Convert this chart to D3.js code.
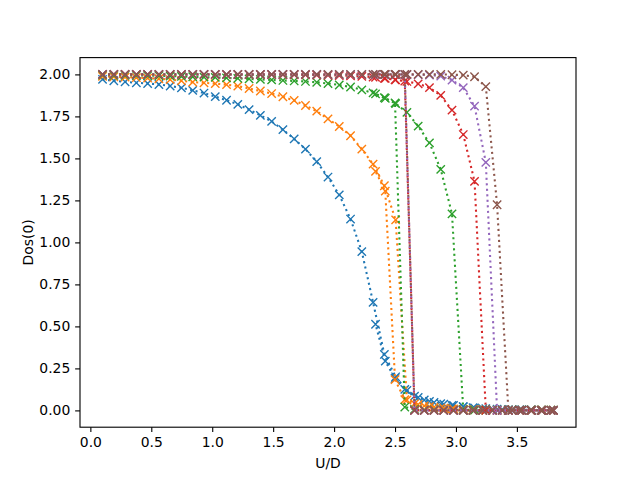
<!DOCTYPE html>
<html><head><meta charset="utf-8">
<script src="https://cdn.jsdelivr.net/npm/d3@7"></script>
<style>body{margin:0;background:#fff}text{font-family:"DejaVu Sans",sans-serif;fill:#000}</style>
</head><body><svg id="c" width="640" height="480"></svg>
<script>
// U/D grid of the increasing sweep and of the decreasing sweep
const uForward = [0.1,0.1925,0.285,0.3775,0.47,0.5625,0.655,0.7475,0.84,0.9325,1.025,1.1175,1.21,1.3025,1.395,1.4875,1.58,1.6725,1.765,1.8575,1.95,2.0425,2.135,2.2275,2.32,2.4125,2.505,2.5975,2.69,2.7825,2.875,2.9675,3.06,3.1525,3.245,3.3375,3.43,3.5225,3.615,3.7075,3.8];
const uBackward = [3.78,3.70,3.62,3.54,3.46,3.38,3.30,3.22,3.14,3.06,2.98,2.90,2.82,2.74,2.66,2.58,2.50,2.42,2.34];

// Dos(0) per series: forward sweep, then backward sweep
const dos1F = [1.970,1.962,1.956,1.950,1.946,1.940,1.931,1.920,1.905,1.889,1.868,1.846,1.822,1.790,1.756,1.720,1.671,1.616,1.555,1.481,1.389,1.283,1.139,0.945,0.643,0.333,0.200,0.119,0.077,0.054,0.040,0.030,0.022,0.015,0.010,0.007,0.005,0.004,0.003,0.002,0.002];
const dos1B = [0.002,0.002,0.003,0.004,0.005,0.006,0.008,0.011,0.016,0.022,0.029,0.037,0.047,0.062,0.085,0.125,0.190,0.293,0.513];

const dos2F = [1.988,1.986,1.984,1.981,1.978,1.974,1.969,1.962,1.954,1.950,1.945,1.939,1.930,1.916,1.901,1.886,1.867,1.845,1.815,1.781,1.735,1.690,1.635,1.555,1.466,1.337,1.134,0.062,0.035,0.022,0.014,0.009,0.006,0.004,0.003,0.002,0.001,0.001,0.001,0.001,0.001];
const dos2B = [0.001,0.001,0.001,0.001,0.002,0.002,0.003,0.003,0.004,0.006,0.009,0.013,0.019,0.027,0.040,0.064,0.183,1.305,1.423];

const dos3F = [1.996,1.995,1.995,1.994,1.993,1.992,1.990,1.988,1.986,1.984,1.982,1.979,1.976,1.973,1.970,1.967,1.964,1.961,1.958,1.953,1.946,1.937,1.925,1.908,1.890,1.862,1.826,1.774,1.692,1.592,1.435,1.170,0.004,0.002,0.001,0.001,0.001,0.001,0.001,0.001,0.001];
const dos3B = [0.001,0.001,0.001,0.001,0.001,0.001,0.001,0.001,0.001,0.001,0.002,0.002,0.003,0.003,0.006,0.020,1.830,1.858,1.884];

const dos4F = [2.0,2.0,2.0,2.0,2.0,1.999,1.999,1.999,1.999,1.999,1.999,1.999,1.999,1.999,1.999,1.999,1.998,1.998,1.997,1.996,1.995,1.993,1.991,1.988,1.984,1.977,1.968,1.958,1.944,1.921,1.875,1.787,1.642,1.363,0.001,0.0,0.0,0.0,0.0,0.0,0.0];
const dos4B = [0.0,0.0,0.0,0.0,0.0,0.0,0.0,0.0,0.0,0.0,0.0,0.0,0.0,0.0,0.0,1.960,1.968,1.976,1.983];

const dos5F = [2.0,2.0,2.0,2.0,2.0,2.0,2.0,2.0,2.0,2.0,2.0,2.0,2.0,2.0,2.0,2.0,2.0,2.0,2.0,2.0,1.999,1.999,1.999,1.999,1.999,1.999,1.999,1.999,1.998,1.996,1.990,1.966,1.921,1.811,1.476,0.0,0.0,0.0,0.0,0.0,0.0];
const dos5B = [0.0,0.0,0.0,0.0,0.0,0.0,0.0,0.0,0.0,0.0,0.0,0.0,0.0,0.0,0.0,1.999,1.999,1.999,1.999];

const dos6F = [2.0,2.0,2.0,2.0,2.0,2.0,2.0,2.0,2.0,2.0,2.0,2.0,2.0,2.0,2.0,2.0,2.0,2.0,2.0,2.0,2.0,2.0,2.0,2.0,2.0,2.0,2.0,2.0,2.0,2.0,2.0,1.998,1.996,1.986,1.927,1.224,0.0,0.0,0.0,0.0,0.0];
const dos6B = [0.0,0.0,0.0,0.0,0.0,0.0,0.0,0.0,0.0,0.0,0.0,0.0,0.0,0.0,0.0,2.0,2.0,2.0,2.0];

const seriesColors = ["#1f77b4","#ff7f0e","#2ca02c","#d62728","#9467bd","#8c564b"];
const xTicks = [0.0,0.5,1.0,1.5,2.0,2.5,3.0,3.5];
const yTicks = [0.00,0.25,0.50,0.75,1.00,1.25,1.50,1.75,2.00];

const seriesF = [dos1F,dos2F,dos3F,dos4F,dos5F,dos6F];
const seriesB = [dos1B,dos2B,dos3B,dos4B,dos5B,dos6B];

const L=80,R=576,T=57.6,B=427.2;
const svg=d3.select("#c");
const allX=uForward.concat(uBackward);
const xmin=d3.min(allX), xmax=d3.max(allX);
const xm=(xmax-xmin)*0.05;
const x=d3.scaleLinear().domain([xmin-xm,xmax+xm]).range([L,R]);
const y=d3.scaleLinear().domain([-0.1,2.1]).range([B,T]);

const clip=svg.append("defs").append("clipPath").attr("id","cp");
clip.append("rect").attr("x",L).attr("y",T).attr("width",R-L).attr("height",B-T);

const g=svg.append("g").attr("clip-path","url(#cp)");
const line=d3.line().x(d=>x(d[0])).y(d=>y(d[1]));
const ms=4.17;
seriesF.forEach((f,i)=>{
  const pts=uForward.map((u,j)=>[u,f[j]]).concat(uBackward.map((u,j)=>[u,seriesB[i][j]]));
  g.append("path").datum(pts).attr("d",line).attr("fill","none")
   .attr("stroke",seriesColors[i]).attr("stroke-width",2.08)
   .attr("stroke-dasharray","2.08,3.44");
  g.append("g").selectAll("path").data(pts).join("path")
   .attr("d",d=>`M${x(d[0])-ms},${y(d[1])-ms}L${x(d[0])+ms},${y(d[1])+ms}M${x(d[0])-ms},${y(d[1])+ms}L${x(d[0])+ms},${y(d[1])-ms}`)
   .attr("stroke",seriesColors[i]).attr("stroke-width",1.39).attr("fill","none");
});

// axes
const xAxis=d3.axisBottom(x).tickValues(xTicks).tickFormat(d3.format(".1f")).tickSize(4.86).tickPadding(4.86);
const yAxis=d3.axisLeft(y).tickValues(yTicks).tickFormat(d3.format(".2f")).tickSize(4.86).tickPadding(4.86);
const gx=svg.append("g").attr("transform",`translate(0,${B})`).call(xAxis);
const gy=svg.append("g").attr("transform",`translate(${L},0)`).call(yAxis);
[gx,gy].forEach(a=>{
  a.select(".domain").remove();
  a.selectAll("line").attr("stroke","#000").attr("stroke-width",1.11);
  a.selectAll("text").style("font-size","13.9px").style("font-family","DejaVu Sans").attr("fill","#000");
});
svg.append("rect").attr("x",L).attr("y",T).attr("width",R-L).attr("height",B-T)
  .attr("fill","none").attr("stroke","#000").attr("stroke-width",1.11);

svg.append("text").attr("x",(L+R)/2).attr("y",468).attr("text-anchor","middle")
  .style("font-size","13.9px").text("U/D");
svg.append("text").attr("transform",`translate(33,${(T+B)/2}) rotate(-90)`).attr("text-anchor","middle")
  .style("font-size","13.9px").text("Dos(0)");
</script></body></html>
